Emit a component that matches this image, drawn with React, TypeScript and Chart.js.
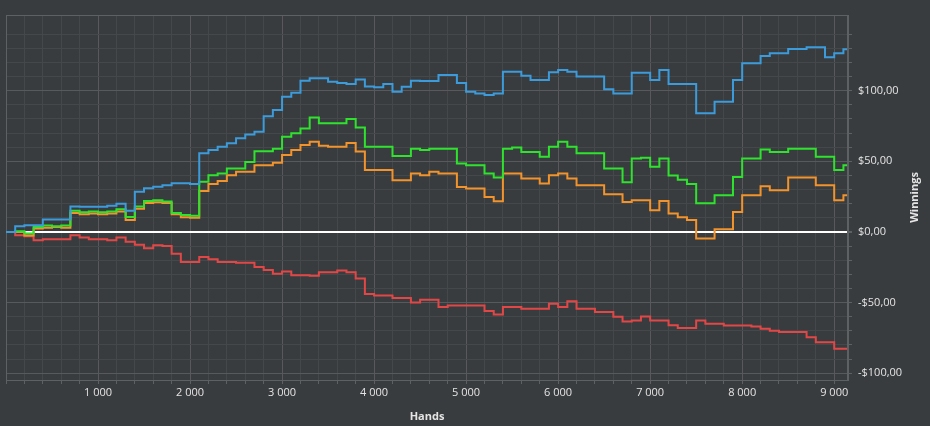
import React, { useEffect, useRef } from "react";
import { Chart, registerables } from "chart.js";

Chart.register(...registerables);

const HANDS = [
  0, 100, 200, 300, 400, 500, 600, 700, 800, 900,
  1000, 1100, 1200, 1300, 1400, 1500, 1600, 1700, 1800, 1900,
  2000, 2100, 2200, 2300, 2400, 2500, 2600, 2700, 2800, 2900,
  3000, 3100, 3200, 3300, 3400, 3500, 3600, 3700, 3800, 3900,
  4000, 4100, 4200, 4300, 4400, 4500, 4600, 4700, 4800, 4900,
  5000, 5100, 5200, 5300, 5400, 5500, 5600, 5700, 5800, 5900,
  6000, 6100, 6200, 6300, 6400, 6500, 6600, 6700, 6800, 6900,
  7000, 7100, 7200, 7300, 7400, 7500, 7600, 7700, 7800, 7900,
  8000, 8100, 8200, 8300, 8400, 8500, 8600, 8700, 8800, 8900,
  9000, 9100, 9140,
];

const BLUE = [
  0, 4, 4.7, 4.7, 8.9, 8.9, 8.9, 18, 17.9, 17.9,
  17.9, 18.5, 20, 15.1, 28.4, 31, 32, 33, 34.5, 34.5,
  34, 55.8, 58, 60.4, 62.8, 66.4, 69, 71, 82, 86.3,
  95.7, 98.6, 107, 108.8, 108.8, 106.4, 105.5, 104.8, 108, 103,
  102.4, 104.8, 99.3, 102.8, 107, 106.9, 106.9, 111.1, 111.1, 105.4,
  99.3, 98.1, 97, 98, 113.5, 113.5, 110.6, 107.6, 107.6, 113,
  114.7, 113.5, 110, 110, 110, 101, 98, 98, 112.8, 112.8,
  107.6, 114.7, 104.8, 104.8, 104.8, 84, 84, 92.2, 92.2, 107.6,
  119.4, 119.4, 124.6, 126.5, 126.5, 129.6, 129.6, 130.8, 130.8, 123.7,
  126.5, 129.4, 129.4,
];

const GREEN = [
  0, 0.5, -1, 3.5, 4.5, 4, 4.5, 15, 14, 14.5,
  14, 14.5, 16, 10.6, 18, 22, 22.5, 21.5, 13.5, 12,
  11.5, 35.5, 40.2, 41.4, 45, 45, 49.6, 57.2, 57.2, 59,
  67.4, 69.8, 73.3, 81, 77, 77, 77, 80, 74, 60.3,
  60.3, 60.3, 53.7, 53.7, 59, 58, 59, 59, 59, 48.5,
  47.3, 47.3, 41.4, 38.6, 59, 59.8, 56.7, 56.7, 53.2, 60.3,
  63.8, 60.3, 55.8, 55.8, 55.8, 45, 45, 35.2, 52, 52.5,
  46.1, 52, 40, 37, 34, 20.3, 20.3, 26, 26, 39,
  52, 52, 58.4, 56.7, 56.7, 59, 59, 59, 53.2, 53.2,
  43.8, 47.3, 47.3,
];

const ORANGE = [
  0, 0, -2.5, 2.5, 3, 3.5, 3, 13.5, 12.5, 13,
  12.5, 13, 14.5, 8.5, 16.5, 20.5, 21, 20.5, 12.5, 10.5,
  10, 29, 34, 36, 40.2, 42.6, 42.6, 47.3, 47.3, 49,
  54.4, 58, 61.5, 63.8, 61, 60.3, 60.3, 63, 57, 43.8,
  43.8, 43.8, 36.7, 36.7, 41.4, 40.2, 42.6, 41.4, 41.4, 31.9,
  30.8, 30.8, 24.8, 21.8, 41.4, 41.4, 37.9, 37.9, 34.3, 40.2,
  41.4, 37.9, 33.1, 33.1, 33.1, 26.7, 26.7, 21.3, 22.5, 22.5,
  15.4, 22, 13, 10.5, 8.5, -4.7, -4.7, 1.9, 1.9, 14.2,
  26, 26, 32.4, 29.6, 29.6, 38.6, 38.6, 38.6, 33.1, 33.1,
  22.5, 26, 26,
];

const RED = [
  0, -2.3, -3, -5.9, -5.2, -5.2, -5.2, -2.3, -4, -5.2,
  -5.2, -5.9, -4, -7, -9, -11.6, -9.4, -10, -15.4, -21.3,
  -21.3, -17.7, -19.4, -21.3, -21.3, -21.8, -21.8, -24.8, -27, -29.5,
  -28, -30.7, -30.7, -31, -28.6, -28.6, -27.2, -28.6, -33, -44,
  -44.9, -44.9, -46.7, -46.7, -49.9, -48, -48, -53.2, -52, -52,
  -52, -52, -56, -58.4, -53.2, -53.2, -54.3, -54.3, -54.3, -50.8,
  -53.2, -49, -54.3, -54.3, -56.7, -56.7, -60, -63.3, -62.6, -59.8,
  -62.6, -62.6, -66, -67.9, -67.9, -62.6, -65, -65, -66.2, -66.2,
  -66.2, -67, -68.5, -70, -70.9, -70.9, -70.9, -74.5, -78, -78,
  -82.7, -82.7, -82.7,
];

const X_MIN = 0;
const X_MAX = 9150;
const Y_MIN = -104.8;
const Y_MAX = 153.6;
const Y_HIDDEN_TICK = 150;
const X_TITLE = "Hands";
const Y_TITLE = "Winnings";

const BG = "#393c3f";
const GRID_MINOR = "#45484b";
const GRID_MAJOR = "#57595c";
const BORDER = "#5e6164";
const TEXT = "#e4e4e4";
const FONT = "'Open Sans', 'Noto Sans', sans-serif";

const fmtHands = (v: number) =>
  String(Math.round(v)).replace(/\B(?=(\d{3})+(?!\d))/g, " ");

const fmtMoney = (v: number) => {
  const abs = Math.abs(v).toFixed(2).replace(".", ",");
  return (v < 0 ? "-$" : "$") + abs;
};

const toPoints = (vals: number[]) => HANDS.map((h, i) => ({ x: h, y: vals[i] }));

export default function App() {
  const ref = useRef<HTMLCanvasElement | null>(null);

  useEffect(() => {
    const canvas = ref.current;
    if (!canvas) return;

    const framePlugin = {
      id: "frame",
      beforeDatasetsDraw(chart: any) {
        const { ctx, chartArea } = chart;
        ctx.save();
        ctx.strokeStyle = BORDER;
        ctx.lineWidth = 1;
        ctx.strokeRect(
          Math.round(chartArea.left) + 0.5,
          Math.round(chartArea.top) + 0.5,
          Math.round(chartArea.right - chartArea.left) - 1,
          Math.round(chartArea.bottom - chartArea.top)
        );
        ctx.restore();
      },
      afterDraw(chart: any) {
        const { ctx, chartArea } = chart;
        ctx.save();
        ctx.fillStyle = TEXT;
        ctx.font = `bold 11px ${FONT}`;
        ctx.textAlign = "center";
        ctx.textBaseline = "middle";
        ctx.translate(915, (chartArea.top + chartArea.bottom) / 2);
        ctx.rotate(-Math.PI / 2);
        ctx.fillText(Y_TITLE, 0, 0);
        ctx.restore();
      },
    };

    const mk = (label: string, vals: number[], color: string) => ({
      label,
      data: toPoints(vals),
      borderColor: color,
      backgroundColor: color,
      borderWidth: 2,
      pointRadius: 0,
      stepped: true,
      fill: false,
    });

    const chart = new Chart(canvas, {
      type: "line",
      data: {
        datasets: [
          mk("Blue", BLUE, "#3b9bdb"),
          mk("Green", GREEN, "#2ee22e"),
          mk("Orange", ORANGE, "#f2932c"),
          mk("Red", RED, "#e24747"),
        ],
      },
      options: {
        animation: false,
        responsive: false,
        devicePixelRatio: 1,
        layout: { padding: { left: 6, top: 15, right: 0, bottom: 0 } },
        plugins: { legend: { display: false }, tooltip: { enabled: false } },
        scales: {
          x: {
            type: "linear",
            min: X_MIN,
            max: X_MAX,
            ticks: {
              stepSize: 200,
              autoSkip: false,
              maxRotation: 0,
              includeBounds: false,
              color: TEXT,
              font: { family: FONT, size: 11 },
              padding: 2,
              callback: (v: any) => (v > 0 && v % 1000 === 0 ? fmtHands(v) : ""),
            },
            grid: {
              color: (ctx: any) =>
                ctx.tick && ctx.tick.value % 1000 === 0 ? GRID_MAJOR : GRID_MINOR,
              tickColor: BORDER,
              tickLength: 4,
              drawTicks: true,
            },
            border: { color: BORDER, width: 1 },
            title: {
              display: true,
              text: X_TITLE,
              color: TEXT,
              font: { family: FONT, size: 11, weight: "bold" },
              padding: { top: 0, bottom: 3 },
            },
            afterFit: (s: any) => {
              s.height = 46;
            },
          },
          y: {
            type: "linear",
            position: "right",
            min: Y_MIN,
            max: Y_MAX,
            ticks: {
              stepSize: 10,
              autoSkip: false,
              includeBounds: false,
              color: TEXT,
              font: { family: FONT, size: 11 },
              padding: 6,
              callback: (v: any) =>
                v !== Y_HIDDEN_TICK && v % 50 === 0 ? fmtMoney(v) : "",
            },
            grid: {
              color: (ctx: any) => {
                const v = ctx.tick ? ctx.tick.value : NaN;
                if (v === 0) return "#ffffff";
                if (v === Y_HIDDEN_TICK) return "rgba(0,0,0,0)";
                return v % 50 === 0 ? GRID_MAJOR : GRID_MINOR;
              },
              lineWidth: (ctx: any) => (ctx.tick && ctx.tick.value === 0 ? 2 : 1),
              tickColor: (ctx: any) =>
                ctx.tick && ctx.tick.value === Y_HIDDEN_TICK ? "rgba(0,0,0,0)" : BORDER,
              tickLength: 4,
              drawTicks: true,
            },
            border: { color: BORDER, width: 1 },
            afterFit: (s: any) => {
              s.width = 82;
            },
          },
        },
      },
      plugins: [framePlugin],
    } as any);

    return () => chart.destroy();
  }, []);

  return (
    <div
      style={{
        position: "fixed",
        left: 0,
        top: 0,
        width: 930,
        height: 426,
        background: BG,
      }}
    >
      <canvas ref={ref} width={930} height={426} style={{ display: "block", width: 930, height: 426 }} />
    </div>
  );
}
